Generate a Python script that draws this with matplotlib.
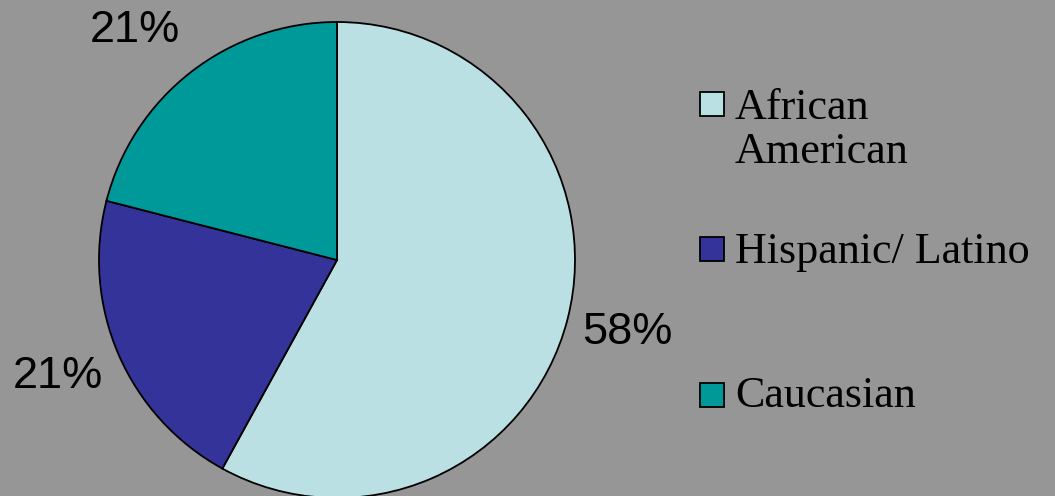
import matplotlib
matplotlib.use("Agg")
import matplotlib.pyplot as plt
from matplotlib.patches import Rectangle

categories = ["African\nAmerican", "Hispanic/ Latino", "Caucasian"]
values = [58, 21, 21]
pct_labels = ["58%", "21%", "21%"]
colors = ["#BBE0E3", "#333399", "#009999"]
bg = "#969696"

W, H = 1055, 496
fig = plt.figure(figsize=(W / 100, H / 100), dpi=100, facecolor=bg)
ax = fig.add_axes([0, 0, 1, 1])
ax.set_facecolor(bg)

def Y(y):
    return H - y

cx, cy, r = 337, 260, 238
wedges, _ = ax.pie(values, colors=colors, startangle=90, counterclock=False,
                   center=(cx, Y(cy)), radius=r,
                   wedgeprops=dict(edgecolor="black", linewidth=1.3))
ax.set_xlim(0, W)
ax.set_ylim(0, H)
ax.set_aspect("equal")
ax.axis("off")

# percentage labels
label_pos = [(627, 333), (58, 377), (135, 31)]
for (x, y), t in zip(label_pos, pct_labels):
    ax.text(x, Y(y), t, ha="center", va="center", fontsize=32.5,
            family="Liberation Sans", color="black")

# legend
sw_y = [92, 237, 383]
txt_base = [163, 263, 407]
for c, lab, sy, tb in zip(colors, categories, sw_y, txt_base):
    ax.add_patch(Rectangle((700, Y(sy + 24)), 24, 24, facecolor=c,
                           edgecolor="black", linewidth=1.3))
    ax.text(735, Y(tb), lab, ha="left", va="baseline", fontsize=31.8,
            family="Liberation Serif", color="black", linespacing=1.12)

fig.savefig("out.png", dpi=100, facecolor=bg)
